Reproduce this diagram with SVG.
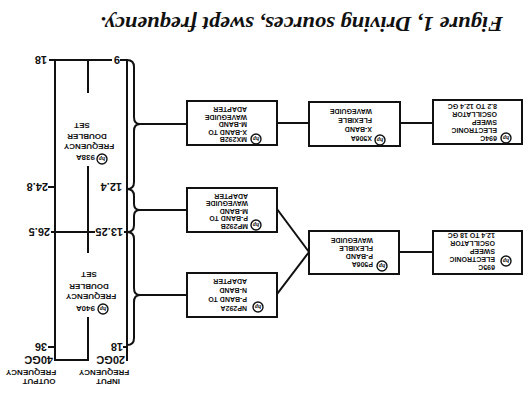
<svg xmlns="http://www.w3.org/2000/svg" xmlns:xlink="http://www.w3.org/1999/xlink" width="531" height="402" viewBox="0 0 531 402">
<style>
.bx{fill:#fff;stroke:#111;stroke-width:2}
.ln{fill:none;stroke:#111;stroke-width:2;stroke-linecap:square}
.t{font-family:"Liberation Sans",Arial,sans-serif;font-weight:bold;fill:#111}
.bt{font-size:7px}
.sc{font-size:11px}
.hd{font-size:8px}
.lg{fill:none;stroke:#111;stroke-width:1.4}
.lgt{font-family:"Liberation Serif",serif;font-style:italic;font-weight:bold;font-size:6px;fill:#111}
.title{font-family:"Liberation Serif",serif;font-style:italic;font-weight:bold;font-size:21px;fill:#111}
</style>
<defs>
<g id="hp"><circle r="5" class="lg"/><text class="lgt" text-anchor="middle" y="2">hp</text></g>
</defs>
<rect width="531" height="402" fill="#fff"/>
<g transform="rotate(180 265.5 201)">
<g id="connectors">
<path class="ln" d="M222,279 H254 M98,279 H131 M254,193 L222,150 M254,108 L222,150 M98,150 H132 M391,278 H344 M391,192 H344 M391,107 H344"/>
<path class="ln" d="M404,342 Q397,342 397,335 L397,285 Q397,278 391,278 Q397,278 397,271 L397,220 Q397,213 404,213"/>
<path class="ln" d="M404,213 Q397,213 397,206 L397,198 Q397,192 391,192 Q397,192 397,186 L397,177 Q397,170 404,170"/>
<path class="ln" d="M404,170 Q397,170 397,163 L397,114 Q397,107 391,107 Q397,107 397,100 L397,64 Q397,57 404,57"/>
</g>
<g id="scale">
<path class="ln" d="M404,342 V42 M476,342 V42 M404,342 H410 M420,342 H481 M443,342 V310 M443,235 V150 M443,84 V42 M443,42 H476 M404,170 H406 M437,170 H479 M476,215 H482 M476,55 H482 M404,55 H407"/>
<text class="t sc" x="484" y="346">18</text>
<text class="t sc" x="483" y="219">24.8</text>
<text class="t sc" x="481" y="174">26.5</text>
<text class="t sc" x="484" y="59">36</text>
<text class="t sc" x="478" y="46">40GC</text>
<text class="t sc" x="411" y="346">9</text>
<text class="t sc" x="409" y="219">12.4</text>
<text class="t sc" x="408" y="174">13.25</text>
<text class="t sc" x="408" y="59">18</text>
<text class="t sc" x="406" y="46">20GC</text>
<text class="t hd" x="423" y="23" text-anchor="middle">INPUT</text>
<text class="t hd" x="427" y="32" text-anchor="middle">FREQUENCY</text>
<text class="t hd" x="492" y="23" text-anchor="middle">OUTPUT</text>
<text class="t hd" x="500" y="32" text-anchor="middle">FREQUENCY</text>
</g>
<g id="doubler938A">
<use xlink:href="#hp" x="429" y="243"/>
<text class="t hd" x="436" y="247">938A</text>
<text class="t hd" x="442" y="258" text-anchor="middle">FREQUENCY</text>
<text class="t hd" x="444" y="268" text-anchor="middle">DOUBLER</text>
<text class="t hd" x="449" y="279" text-anchor="middle">SET</text>
</g>
<g id="doubler940A">
<use xlink:href="#hp" x="428" y="93"/>
<text class="t hd" x="436" y="96">940A</text>
<text class="t hd" x="440" y="108" text-anchor="middle">FREQUENCY</text>
<text class="t hd" x="442" y="118" text-anchor="middle">DOUBLER</text>
<text class="t hd" x="442" y="130" text-anchor="middle">SET</text>
</g>
<g id="MX292B">
<rect class="bx" x="254" y="257" width="90" height="44"/>
<use xlink:href="#hp" x="275" y="263"/>
<text class="t bt" x="284" y="265">MX292B</text>
<text class="t bt" x="284" y="272.5">X-BAND TO</text>
<text class="t bt" x="284" y="280">M-BAND</text>
<text class="t bt" x="284" y="287.5">WAVEGUIDE</text>
<text class="t bt" x="284" y="295">ADAPTER</text>
</g>
<g id="X506A">
<rect class="bx" x="131" y="256" width="91" height="44"/>
<use xlink:href="#hp" x="151" y="262"/>
<text class="t bt" x="159" y="266">X506A</text>
<text class="t bt" x="159" y="275">X-BAND</text>
<text class="t bt" x="159" y="284">FLEXIBLE</text>
<text class="t bt" x="159" y="293">WAVEGUIDE</text>
</g>
<g id="S694C">
<rect class="bx" x="9" y="258" width="89" height="44"/>
<use xlink:href="#hp" x="25" y="264"/>
<text class="t bt" x="34" y="266">694C</text>
<text class="t bt" x="34" y="274">ELECTRONIC</text>
<text class="t bt" x="34" y="282">SWEEP</text>
<text class="t bt" x="34" y="290">OSCILLATOR</text>
<text class="t bt" x="34" y="298">8.2 TO 12.4 GC</text>
</g>
<g id="MP292B">
<rect class="bx" x="254" y="170" width="90" height="44"/>
<use xlink:href="#hp" x="275" y="177"/>
<text class="t bt" x="283" y="178.5">MP292B</text>
<text class="t bt" x="283" y="186">P-BAND TO</text>
<text class="t bt" x="283" y="193.5">M-BAND</text>
<text class="t bt" x="283" y="201">WAVEGUIDE</text>
<text class="t bt" x="283" y="208.5">ADAPTER</text>
</g>
<g id="P506A">
<rect class="bx" x="132" y="128" width="90" height="43"/>
<use xlink:href="#hp" x="149" y="136"/>
<text class="t bt" x="158" y="140">P506A</text>
<text class="t bt" x="158" y="148">P-BAND</text>
<text class="t bt" x="158" y="156">FLEXIBLE</text>
<text class="t bt" x="158" y="164">WAVEGUIDE</text>
</g>
<g id="S695C">
<rect class="bx" x="9" y="128" width="89" height="43"/>
<use xlink:href="#hp" x="25" y="141"/>
<text class="t bt" x="36" y="137">695C</text>
<text class="t bt" x="36" y="145">ELECTRONIC</text>
<text class="t bt" x="36" y="153">SWEEP</text>
<text class="t bt" x="36" y="161">OSCILLATOR</text>
<text class="t bt" x="36" y="169">12.4 TO 18 GC</text>
</g>
<g id="NP292A">
<rect class="bx" x="254" y="85" width="90" height="44"/>
<use xlink:href="#hp" x="273" y="95"/>
<text class="t bt" x="284" y="96">NP292A</text>
<text class="t bt" x="284" y="105">P-BAND TO</text>
<text class="t bt" x="284" y="114">N-BAND</text>
<text class="t bt" x="284" y="123">ADAPTER</text>
</g>
<text class="title" x="28" y="385" textLength="403" lengthAdjust="spacingAndGlyphs">Figure 1, Driving sources, swept frequency.</text>
</g>
</svg>
